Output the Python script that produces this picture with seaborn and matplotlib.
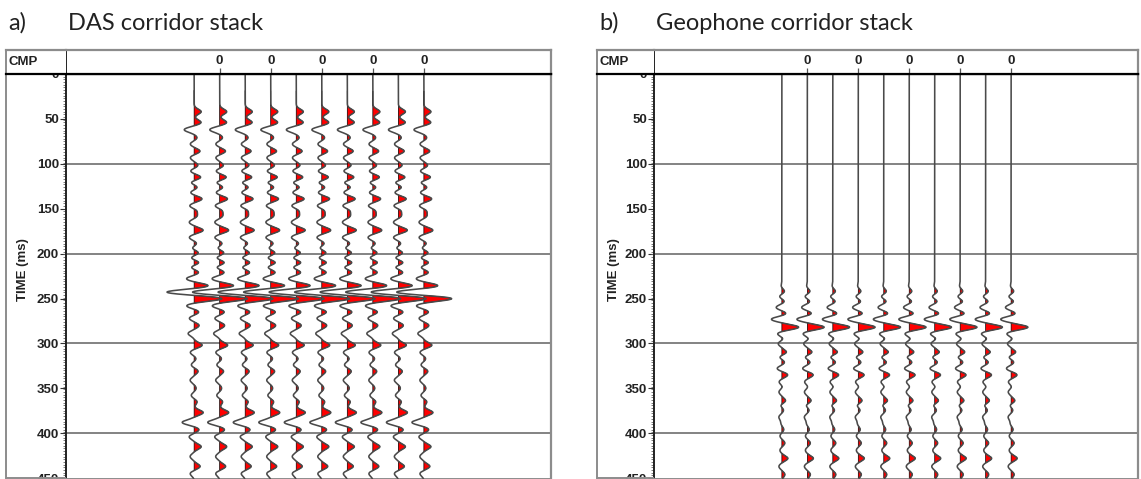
import numpy as np
import pandas as pd
import matplotlib
matplotlib.use("Agg")
import matplotlib.pyplot as plt
from matplotlib.lines import Line2D
from matplotlib.ticker import MultipleLocator
import seaborn as sns

# ---------------------------------------------------------------------------
# Corridor-stack reflection events: two-way time (ms) and signed amplitude
# ---------------------------------------------------------------------------
das_times = [42, 54, 62, 71, 78, 86, 93, 102, 108, 115, 121, 126, 132, 139, 147,
             152, 158, 165, 174, 182, 189, 194, 199, 205, 210, 215, 221, 228, 236,
             243, 250, 258, 265, 272, 280, 289, 302, 310, 317, 324, 331, 341, 350,
             358, 365, 377, 388, 396, 404, 415, 426, 437, 445]
das_amps = [7, 7, -10, 3, -4, 6, -4, 4, -4, 7, -4, 4, -4, 8, -5,
            3, 3, -5, 9, -5, 3, -3, 5, -4, 6, -4, 5, -8, 15,
            -29, 29, -8, 5, -5, 5, -6, 8, -4, 2, -3, 4, -4, 2,
            -3, 3, 9, -12, 5, -5, 7, -4, 6, -4]

geo_times = [237, 242, 248, 253, 260, 267, 273, 282, 289, 295, 300, 310, 315, 321,
             328, 335, 343, 348, 354, 364, 369, 374, 382, 389, 396, 403, 411, 419,
             428, 437, 446]
geo_amps = [-1, 3, -3, 3, -6, 5, -11, 17, -5, 2, -4, 5, -3, 3,
            -5, 6, -3, 1, -3, 4, -2, 2, -3, -1, 2, -2, 3, -2,
            6, -3, 3]

trace_numbers = list(range(1, 11))
cmp_label_traces = [2, 4, 6, 8, 10]
cmp_labels = ["0", "0", "0", "0", "0"]
time_ticks = [0, 50, 100, 150, 200, 250, 300, 350, 400, 450]
grid_times = [100, 200, 300, 400]

panel_letters = ["a)", "b)"]
panel_titles = ["DAS corridor stack", "Geophone corridor stack"]

# ---------------------------------------------------------------------------
# Figure layout (pixel based)
# ---------------------------------------------------------------------------
W, H, DPI = 1141, 479, 100
TRACE_GAIN = 1 / 25.5       # amplitude units -> trace spacing
LOBE_WIDTH = 2.8            # ms, width of each wavelet lobe
T_TOP, T_BOT = 1.0, 451.0
X_LIM = (-4.02, 14.98)

sns.set_theme(style="white")
plt.rcParams["font.family"] = ["Liberation Sans Narrow", "Liberation Sans", "DejaVu Sans"]

fig = plt.figure(figsize=(W / DPI, H / DPI), dpi=DPI)


def px_rect(x0, y0, x1, y1):
    return [x0 / W, 1 - y1 / H, (x1 - x0) / W, (y1 - y0) / H]


def fig_line(x0, y0, x1, y1, color="#8c8c8c", lw=1.4):
    fig.add_artist(Line2D([x0 / W, x1 / W], [1 - y0 / H, 1 - y1 / H],
                          transform=fig.transFigure, color=color, lw=lw,
                          solid_capstyle="butt"))


def build_trace(times, amps, t):
    tr = np.zeros_like(t)
    for tc, a in zip(times, amps):
        tr += a * np.exp(-0.5 * ((t - tc) / LOBE_WIDTH) ** 2)
    return tr


t = np.arange(0.0, 452.0, 0.25)

panels = [
    dict(left=6, col=66, right=551, times=das_times, amps=das_amps),
    dict(left=597, col=654, right=1138, times=geo_times, amps=geo_amps),
]

TOP, HEAD, BOT = 50, 74, 479
bold = dict(fontweight="bold")
LABEL_SIZE = 9.5

for i, p in enumerate(panels):
    # main trace area
    ax = fig.add_axes(px_rect(p["col"], HEAD, p["right"], BOT))
    ax.set_xlim(*X_LIM)
    ax.set_ylim(T_BOT, T_TOP)

    trace = build_trace(p["times"], p["amps"], t)
    rows = []
    for k in trace_numbers:
        x = k + trace * TRACE_GAIN
        ax.fill_betweenx(t, k, x, where=x > k, interpolate=True,
                         facecolor="#ff0000", edgecolor="black", lw=0.5, zorder=2)
        rows.append(pd.DataFrame({"trace": k, "x": x, "t": t}))
    df = pd.concat(rows, ignore_index=True)
    sns.lineplot(data=df, x="x", y="t", units="trace", estimator=None,
                 orient="y", sort=False, color="#4a4a4a", lw=1.15, ax=ax, zorder=3)

    for g in grid_times:
        ax.axhline(g, color="#7a7a7a", lw=1.3, zorder=1)

    ax.set_xlabel("")
    ax.set_ylabel("")
    ax.set_xticks([])
    ax.tick_params(axis="x", bottom=False, top=False, labelbottom=False)
    ax.set_yticks(time_ticks)
    ax.set_yticklabels([str(v) for v in time_ticks], fontsize=LABEL_SIZE, **bold)
    ax.yaxis.set_minor_locator(MultipleLocator(3))
    ax.tick_params(axis="y", which="major", direction="out", length=4, width=0.8,
                   color="#333333", pad=1, left=True, labelcolor="#222222")
    ax.tick_params(axis="y", which="minor", direction="out", length=2, width=0.6,
                   color="#666666", left=True)
    for sp in ax.spines.values():
        sp.set_visible(True)
    ax.spines["left"].set_color("#222222")
    ax.spines["left"].set_linewidth(1.4)
    ax.spines["top"].set_color("black")
    ax.spines["top"].set_linewidth(1.6)
    ax.spines["right"].set_color("#8c8c8c")
    ax.spines["right"].set_linewidth(1.6)
    ax.spines["bottom"].set_color("#8c8c8c")
    ax.spines["bottom"].set_linewidth(1.4)

    # header row with CMP labels
    hx = fig.add_axes(px_rect(p["col"], TOP, p["right"], HEAD))
    hx.set_zorder(5)
    hx.set_xlim(*X_LIM)
    hx.set_ylim(0, 1)
    hx.set_yticks([])
    hx.set_xticks(cmp_label_traces)
    hx.tick_params(axis="x", bottom=True, direction="in", length=4, width=0.9,
                   color="#555555", labelbottom=False)
    for k, lab in zip(cmp_label_traces, cmp_labels):
        hx.text(k, 0.55, lab, ha="center", va="center", fontsize=LABEL_SIZE,
                color="#222222", **bold)
    hx.spines["top"].set_color("#8c8c8c")
    hx.spines["top"].set_linewidth(1.6)
    hx.spines["bottom"].set_color("black")
    hx.spines["bottom"].set_linewidth(1.6)
    hx.spines["left"].set_color("#222222")
    hx.spines["left"].set_linewidth(1.4)
    hx.spines["right"].set_color("#8c8c8c")
    hx.spines["right"].set_linewidth(1.6)

    # CMP cell
    cx = fig.add_axes(px_rect(p["left"], TOP, p["col"], HEAD))
    cx.set_zorder(5)
    cx.set_xticks([])
    cx.set_yticks([])
    cx.text(0.04, 0.5, "CMP", ha="left", va="center", fontsize=LABEL_SIZE,
            transform=cx.transAxes, color="#222222", **bold)
    cx.spines["top"].set_color("#8c8c8c")
    cx.spines["top"].set_linewidth(1.6)
    cx.spines["bottom"].set_color("black")
    cx.spines["bottom"].set_linewidth(1.6)
    cx.spines["left"].set_color("#8c8c8c")
    cx.spines["left"].set_linewidth(1.4)
    cx.spines["right"].set_visible(False)

    # outer frame down the left side and along the bottom
    fig_line(p["left"], HEAD, p["left"], BOT)
    fig_line(p["left"], BOT - 0.7, p["col"], BOT - 0.7)

    fig.text((p["left"] + 17) / W, 1 - 270 / H, "TIME (ms)", rotation=90,
             ha="center", va="center", fontsize=LABEL_SIZE, color="#222222", **bold)

    # panel caption
    fig.text((p["left"] + 2) / W, 1 - 23 / H, panel_letters[i], ha="left",
             va="center", fontsize=17, family=["Lato", "DejaVu Sans"], color="#222222")
    fig.text((p["col"] + 2) / W, 1 - 23 / H, panel_titles[i], ha="left",
             va="center", fontsize=17, family=["Lato", "DejaVu Sans"], color="#222222")

fig.savefig("out.png", dpi=DPI, facecolor="white")
